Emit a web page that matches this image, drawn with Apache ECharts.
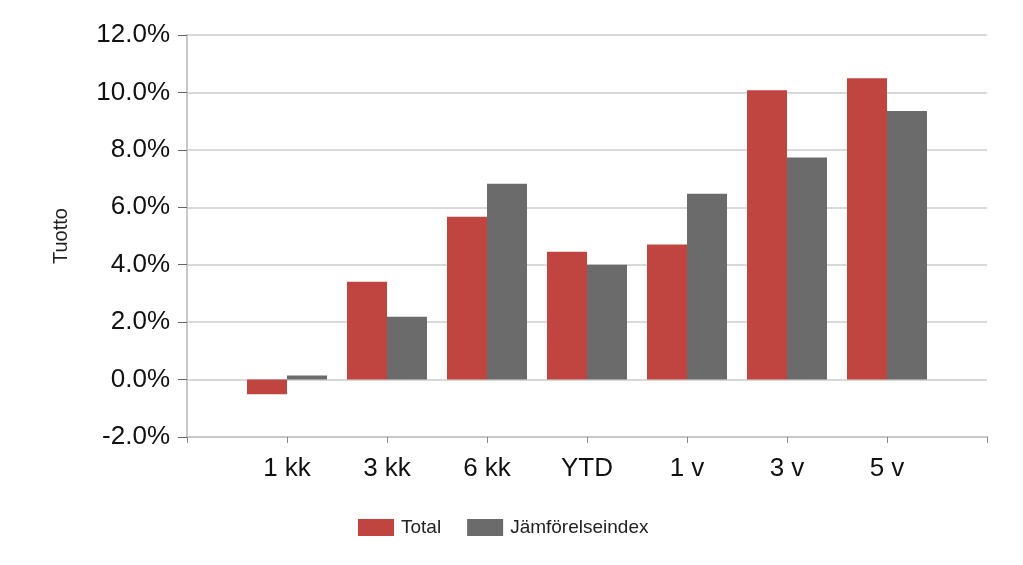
<!DOCTYPE html>
<html>
<head>
<meta charset="utf-8">
<script src="https://cdn.jsdelivr.net/npm/echarts@6/dist/echarts.min.js"></script>
<style>html,body{margin:0;padding:0;background:#fff;}#c{width:1023px;height:565px;}</style>
</head>
<body>
<div id="c"></div>
<script>
var categories = ['', '1 kk', '3 kk', '6 kk', 'YTD', '1 v', '3 v', '5 v', ''];
var totalValues = [null, -0.51, 3.41, 5.67, 4.45, 4.70, 10.08, 10.49, null];
var indexValues = [null, 0.14, 2.19, 6.82, 4.00, 6.47, 7.73, 9.35, null];
var seriesNames = ['Total', 'Jämförelseindex'];

var chart = echarts.init(document.getElementById('c'));
chart.setOption({
  animation: false,
  textStyle: { fontFamily: 'Liberation Sans, Arial, sans-serif' },
  grid: { left: 187, right: 36, top: 35, bottom: 128 },
  legend: {
    data: seriesNames,
    bottom: 28,
    left: 358,
    padding: 0,
    itemWidth: 36,
    itemHeight: 17,
    itemGap: 26,
    icon: 'rect',
    textStyle: { fontSize: 19, color: '#222', padding: [0, 0, 0, 2], fontFamily: 'Liberation Sans, Arial, sans-serif' }
  },
  xAxis: {
    type: 'category',
    data: categories,
    boundaryGap: false,
    axisLine: { onZero: false, lineStyle: { color: '#c8c8c8', width: 2 } },
    axisTick: { show: true, length: 6, lineStyle: { color: '#888' } },
    axisLabel: { fontSize: 26, color: '#111', margin: 19 },
    splitLine: { show: false }
  },
  yAxis: {
    type: 'value',
    min: -2,
    max: 12,
    interval: 2,
    name: 'Tuotto',
    nameLocation: 'middle',
    nameGap: 116,
    nameRotate: 90,
    nameTextStyle: { fontSize: 20, color: '#222' },
    axisLine: { show: true, lineStyle: { color: '#c8c8c8', width: 2 } },
    axisTick: { show: true, length: 9, lineStyle: { color: '#666' } },
    axisLabel: { fontSize: 26, color: '#111', margin: 17, formatter: function (v) { return v.toFixed(1) + '%'; } },
    splitLine: { show: true, lineStyle: { color: '#d9d9d9', width: 2 } }
  },
  series: [
    { name: seriesNames[0], type: 'bar', data: totalValues, barWidth: 40, barGap: '0%', itemStyle: { color: '#c04540' } },
    { name: seriesNames[1], type: 'bar', data: indexValues, barWidth: 40, barGap: '0%', itemStyle: { color: '#6b6b6b' } }
  ]
});
</script>
</body>
</html>
